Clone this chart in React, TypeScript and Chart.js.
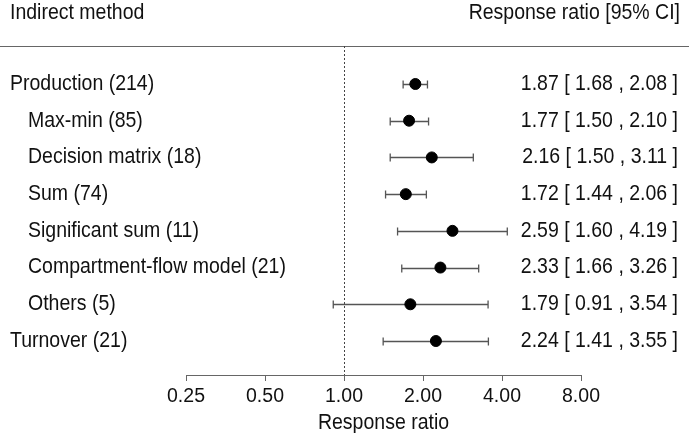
import React, { useEffect, useRef } from "react";
import { Chart, registerables } from "chart.js";

Chart.register(...registerables);

const labels = [
  "Production (214)",
  "Max-min (85)",
  "Decision matrix (18)",
  "Sum (74)",
  "Significant sum (11)",
  "Compartment-flow model (21)",
  "Others (5)",
  "Turnover (21)",
];
const indented = [false, true, true, true, true, true, true, false];
const estimates = [1.87, 1.77, 2.16, 1.72, 2.59, 2.33, 1.79, 2.24];
const lower = [1.68, 1.5, 1.5, 1.44, 1.6, 1.66, 0.91, 1.41];
const upper = [2.08, 2.1, 3.11, 2.06, 4.19, 3.26, 3.54, 3.55];
const tickValues = [0.25, 0.5, 1, 2, 4, 8];
const xTitle = "Response ratio";
const leftHeader = "Indirect method";
const rightHeader = "Response ratio [95% CI]";

const FONT = "'Liberation Sans', Arial, sans-serif";
const FS = 19.5;
const VSCALE = 1.1;

export default function App() {
  const ref = useRef<HTMLCanvasElement>(null);
  useEffect(() => {
    document.body.style.margin = "0";
    const canvas = ref.current!;
    const drawText = (ctx: any, t: string, x: number, y: number, align: string) => {
      ctx.save();
      ctx.translate(x, y);
      ctx.scale(1, VSCALE);
      ctx.textAlign = align;
      ctx.fillText(t, 0, 0);
      ctx.restore();
    };
    const forestPlugin = {
      id: "forest",
      beforeDatasetsDraw(chart: any) {
        const { ctx, chartArea, scales } = chart;
        const xs = scales.x;
        const ys = scales.y;
        ctx.save();
        // header line
        ctx.strokeStyle = "#666";
        ctx.lineWidth = 1;
        ctx.beginPath();
        ctx.moveTo(0, chartArea.top + 0.5);
        ctx.lineTo(chart.width, chartArea.top + 0.5);
        ctx.stroke();
        // reference line at 1
        const x1 = Math.round(xs.getPixelForValue(1)) + 0.5;
        ctx.setLineDash([2, 2]);
        ctx.strokeStyle = "#444";
        ctx.beginPath();
        ctx.moveTo(x1, chartArea.top);
        ctx.lineTo(x1, chartArea.bottom);
        ctx.stroke();
        ctx.setLineDash([]);
        // error bars
        ctx.strokeStyle = "#555";
        ctx.lineWidth = 1.3;
        for (let i = 0; i < estimates.length; i++) {
          const y = Math.round(ys.getPixelForValue(i)) + 0.5;
          const a = xs.getPixelForValue(lower[i]);
          const b = xs.getPixelForValue(upper[i]);
          ctx.beginPath();
          ctx.moveTo(a, y);
          ctx.lineTo(b, y);
          ctx.moveTo(a, y - 4);
          ctx.lineTo(a, y + 4);
          ctx.moveTo(b, y - 4);
          ctx.lineTo(b, y + 4);
          ctx.stroke();
        }
        // texts
        ctx.fillStyle = "#111";
        ctx.font = `${FS}px ${FONT}`;
        ctx.textBaseline = "middle";
        drawText(ctx, leftHeader, 10, 13, "left");
        drawText(ctx, rightHeader, 680, 13, "right");
        for (let i = 0; i < labels.length; i++) {
          const y = ys.getPixelForValue(i);
          drawText(ctx, labels[i], indented[i] ? 28 : 10, y, "left");
          const t = `${estimates[i].toFixed(2)} [ ${lower[i].toFixed(2)} , ${upper[i].toFixed(2)} ]`;
          drawText(ctx, t, 678, y, "right");
        }
        drawText(ctx, xTitle, (chartArea.left + chartArea.right) / 2, 423, "center");
        ctx.restore();
      },
    };
    const chart = new Chart(canvas, {
      type: "scatter",
      data: {
        datasets: [
          {
            data: estimates.map((v, i) => ({ x: v, y: i })),
            backgroundColor: "#000",
            borderColor: "#000",
            pointRadius: 5.5,
            pointHoverRadius: 5.5,
          },
        ],
      },
      options: {
        animation: false,
        responsive: true,
        maintainAspectRatio: false,
        layout: { padding: { left: 186, right: 108, top: 46, bottom: 20.6 } },
        plugins: { legend: { display: false }, tooltip: { enabled: false } },
        scales: {
          x: {
            type: "logarithmic",
            min: 0.25,
            max: 8,
            afterBuildTicks: (scale: any) => {
              scale.ticks = tickValues.map((v) => ({ value: v }));
            },
            ticks: {
              autoSkip: false,
              maxRotation: 0,
              padding: 4,
              color: "#111",
              font: { family: FONT, size: FS },
              callback: (v: any) => Number(v).toFixed(2),
            },
            grid: {
              drawOnChartArea: false,
              drawTicks: true,
              tickLength: 6,
              color: "#666",
            },
            border: { display: true, color: "#666", width: 1 },
            title: { display: false },
          },
          y: {
            type: "linear",
            display: false,
            reverse: true,
            min: -1.035,
            max: 7.926,
          },
        },
      },
      plugins: [forestPlugin],
    });
    return () => chart.destroy();
  }, []);
  return (
    <div style={{ width: 689, height: 433, position: "relative" }}>
      <canvas ref={ref} />
    </div>
  );
}
